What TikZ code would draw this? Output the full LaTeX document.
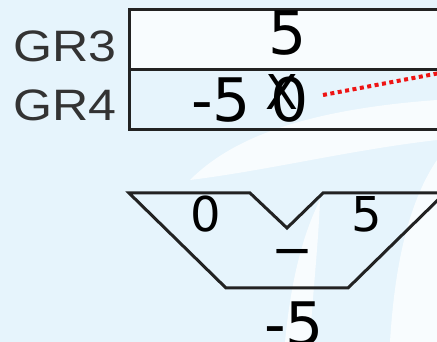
\documentclass[tikz,border=0pt]{standalone}
\usepackage{fontspec}
\setmainfont{DejaVu Sans}
\newfontfamily\grfont{Liberation Sans}
\definecolor{bgblue}{RGB}{230,244,252}
\definecolor{linegray}{RGB}{34,34,34}
\definecolor{labelgray}{RGB}{51,51,51}
\definecolor{dotred}{RGB}{238,20,20}
\tikzset{
  rowlabel/.style={inner sep=0pt, anchor=base west, text=labelgray, font=\grfont\fontsize{44}{46}\selectfont, xscale=1.14, transform shape},
  bignum/.style={inner sep=0pt, anchor=base, font=\fontsize{60}{62}\selectfont},
  smallnum/.style={inner sep=0pt, anchor=base, font=\fontsize{48}{50}\selectfont},
  frame/.style={draw=linegray, line width=3pt},
  whitepatch/.style={fill=white, opacity=0.75},
}
\begin{document}
\begin{tikzpicture}[x=1pt,y=-1pt]
\useasboundingbox (0,0) rectangle (437,342);
\fill[bgblue] (0,0) rectangle (437,342);
\begin{scope}
\clip (0,0) rectangle (437,342);
% soft background patches
\fill[whitepatch] (130,10) -- (437,10) -- (437,70) -- (130,70) -- cycle;
\fill[whitepatch] (190,180) .. controls (230,140) and (300,110) .. (437,100) -- (437,140) .. controls (350,150) and (270,170) .. (190,180) -- cycle;
\fill[whitepatch] (390,342) .. controls (395,260) and (410,200) .. (437,160) -- (437,342) -- cycle;
\fill[whitepatch] (285,342) .. controls (290,290) and (300,240) .. (320,200) .. controls (318,250) and (312,300) .. (310,342) -- cycle;
% table
\draw[frame] (450,10) -- (129,10) -- (129,130) -- (450,130);
\draw[frame] (129,70) -- (450,70);
% row labels
\node[rowlabel] (gr3) at (13,62) {GR3};
\node[rowlabel] (gr4) at (13,121) {GR4};
% table entries
\node[bignum] (t5) at (288,55) {5};
\node[bignum] (tm5) at (221,122) {-5};
\node[bignum] (t0) at (290,122) {0};
\node[smallnum] (tx) at (282,110) {X};
% red dotted line
\coordinate (redend) at (440,73);
\draw[dotred, line width=4pt, dash pattern=on 4pt off 3.5pt] (323,95) -- (redend);
% bottom shape
\draw[frame, line join=miter] (226,288) -- (129,193) -- (250,193) -- (287,228) -- (323,193) -- (445,193) -- (348,288) -- cycle;
\node[smallnum] (s0) at (206,232) {0};
\node[smallnum] (s5) at (367,232) {5};
\node[inner sep=0pt, anchor=south, font=\fontsize{60}{62}\selectfont] (su) at (292,254) {\_};
\node[bignum] (bm5) at (294,345) {-5};
\end{scope}
\end{tikzpicture}
\end{document}
